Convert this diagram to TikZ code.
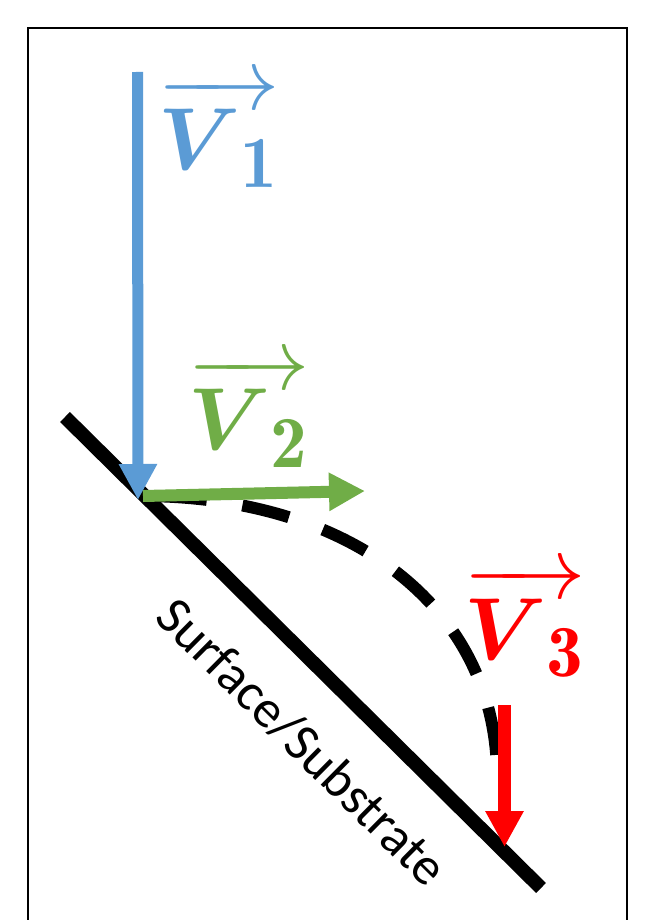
\documentclass[tikz,border=0pt]{standalone}
\usepackage{amsmath}
\usepackage{fontspec}
\newfontfamily\surffont{Carlito}
\usetikzlibrary{arrows.meta}
\definecolor{vblue}{HTML}{5B9BD5}
\definecolor{vgreen}{HTML}{70AD47}
\definecolor{vred}{HTML}{FF0000}
\tikzset{
  frame/.style={draw=black, line width=2pt},
  surface/.style={line width=14pt},
  vecarrow/.style={-{Triangle[length=36pt,width=36pt]}, line width=12pt},
  traj/.style={line width=12pt, dash pattern=on 48pt off 36pt, dash phase=68pt},
  vlabel/.style={inner sep=0pt, font=\Huge, scale=3.54, transform shape},
  surflabel/.style={inner sep=0pt, font=\surffont\fontsize{53}{60}\selectfont, rotate=-44.7}
}

\begin{document}
\begin{tikzpicture}[x=1pt,y=-1pt]
\useasboundingbox (0,0) rectangle (654,920);
\draw[frame] (28,922) -- (28,28) -- (627,28) -- (627,922);
\coordinate (sA) at (65,417);
\coordinate (sB) at (541,888);
\coordinate (v1start) at (137.5,72);
\coordinate (hit) at (138,500);
\coordinate (bounce) at (143,496);
\coordinate (v2end) at (365,491);
\coordinate (arcend) at (497,776);
\coordinate (v3start) at (504.5,705);
\coordinate (land) at (504.5,847);
\draw[surface] (sA) -- (sB);
\draw[traj] (bounce) .. controls (360,497) and (497,615) .. (arcend);
\draw[vecarrow, vblue, line width=11pt] (v1start) -- (hit);
\draw[vecarrow, vgreen] (bounce) -- (v2end);
\draw[vecarrow, vred, line width=13pt] (v3start) -- (land);
\node[vlabel, text=vblue] (v1lab) at (219,132) {$\overrightarrow{\boldsymbol{V}_{\mathbf{1}}}$};
\node[vlabel, text=vgreen] (v2lab) at (249,412) {$\overrightarrow{\boldsymbol{V}_{\mathbf{2}}}$};
\node[vlabel, text=vred] (v3lab) at (525,622) {$\overrightarrow{\boldsymbol{V}_{\mathbf{3}}}$};
\node[surflabel] (surf) at (302,742) {Surface/Substrate};
\end{tikzpicture}
\end{document}
